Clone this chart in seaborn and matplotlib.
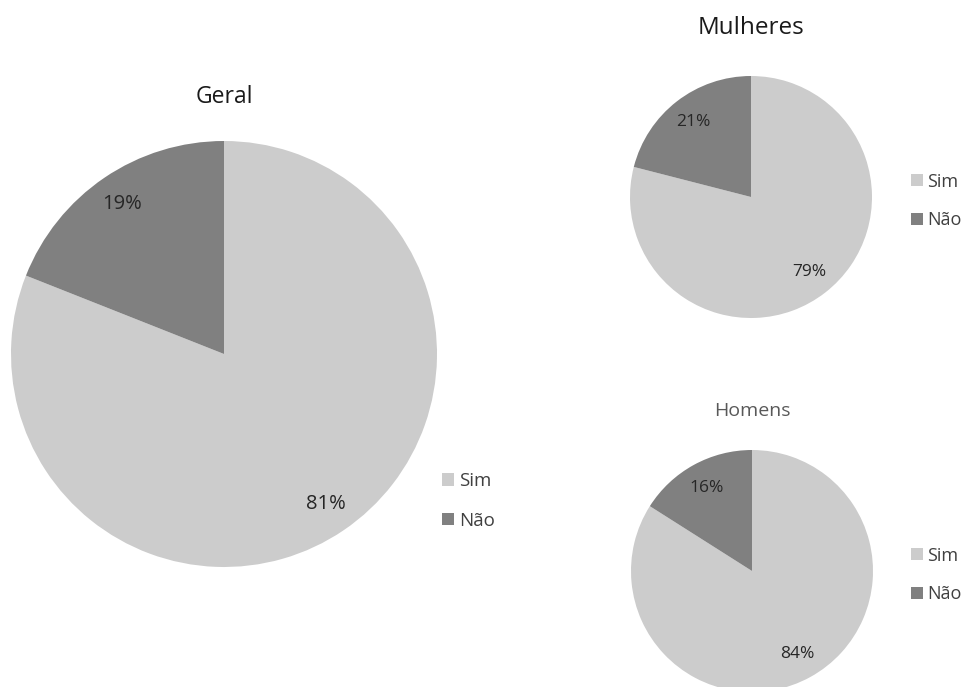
import matplotlib
matplotlib.use("Agg")
import matplotlib.pyplot as plt
import seaborn as sns
from matplotlib.patches import Patch

categories = ["Sim", "Não"]
geral = [81, 19]
mulheres = [79, 21]
homens = [84, 16]
titles = ["Geral", "Mulheres", "Homens"]

sns.set_theme(style="white")
plt.rcParams['font.family'] = ['Open Sans', 'DejaVu Sans']

colors = ["#cccccc", "#808080"]
W, H = 962, 687
fig = plt.figure(figsize=(W / 100, H / 100), dpi=100)
fig.patch.set_facecolor("white")


def px_axes(left, top, size):
    return fig.add_axes([left / W, (H - top - size) / H, size / W, size / H])


def draw_pie(ax, values, pctdist, fs):
    ax.pie(values, colors=colors, startangle=90, counterclock=False,
           autopct=lambda p: f"{p:.0f}%", pctdistance=pctdist,
           textprops=dict(fontsize=fs, color="#262626"),
           wedgeprops=dict(linewidth=0))
    ax.set_xlim(-1, 1)
    ax.set_ylim(-1, 1)
    ax.set_aspect("equal")
    ax.axis("off")


def legend(ax, x, y, fs):
    handles = [Patch(facecolor=c, edgecolor="none") for c in colors]
    leg = ax.legend(handles, categories, loc="center left",
                    bbox_to_anchor=(x / W, 1 - y / H), bbox_transform=fig.transFigure,
                    frameon=False, borderpad=0, borderaxespad=0,
                    handlelength=0.65, handleheight=0.65,
                    handletextpad=0.25, labelspacing=1.15, fontsize=fs)
    for t in leg.get_texts():
        t.set_color("#404040")


ax1 = px_axes(11, 141, 426)
draw_pie(ax1, geral, 0.85, 14.5)
legend(ax1, 442, 501, 13.5)
fig.text(224 / W, 1 - 97 / H, titles[0], ha="center", va="center", fontsize=16.5, color="#1a1a1a")

ax2 = px_axes(630, 76, 242)
draw_pie(ax2, mulheres, 0.78, 12.5)
legend(ax2, 911, 201, 13)
fig.text(751 / W, 1 - 28 / H, titles[1], ha="center", va="center", fontsize=17.5, color="#1a1a1a")

ax3 = px_axes(631, 450, 242)
draw_pie(ax3, homens, 0.78, 12.5)
legend(ax3, 911, 575, 13)
fig.text(752 / W, 1 - 411 / H, titles[2], ha="center", va="center", fontsize=14, color="#595959")

fig.savefig("out.png", dpi=100, facecolor="white")
